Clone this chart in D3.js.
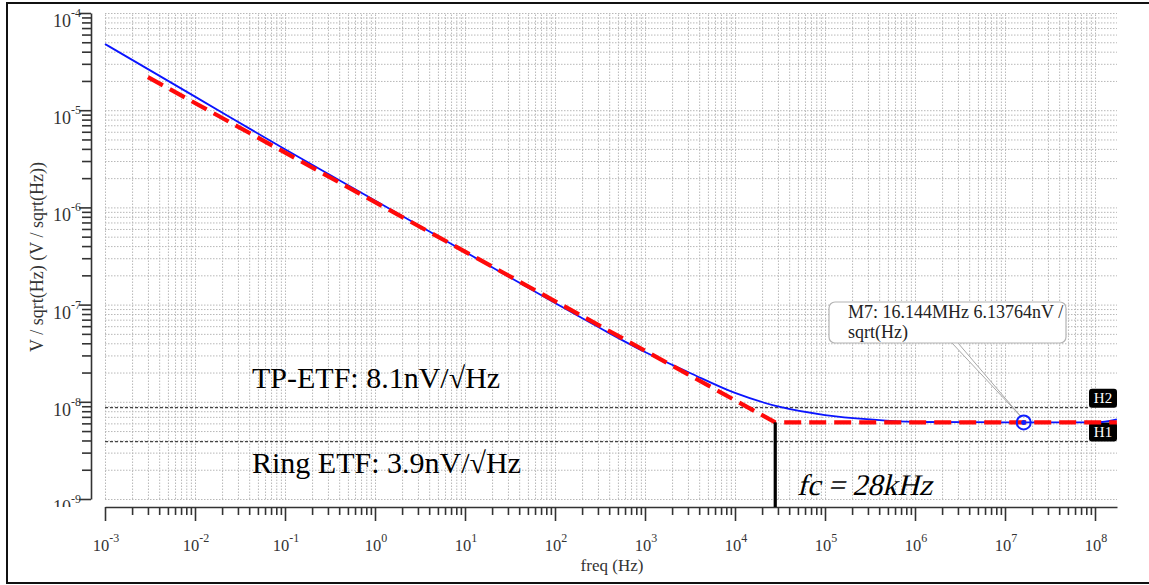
<!DOCTYPE html>
<html>
<head>
<meta charset="utf-8">
<script src="https://cdn.jsdelivr.net/npm/d3@7"></script>
<style>
  html, body { margin: 0; padding: 0; background: #fff; }
  svg { display: block; }
  text { font-family: "Liberation Serif", "Times New Roman", serif; }
</style>
</head>
<body>
<svg id="chart" width="1149" height="585"></svg>
<script>
// ---------------- data ----------------
const xMajorExp = [-3, -2, -1, 0, 1, 2, 3, 4, 5, 6, 7, 8];
const yMajorExp = [-9, -8, -7, -6, -5, -4];

// blue: simulated noise (V/sqrt(Hz)) vs frequency (Hz)
const blueFreq = [1e-3, 1e-2, 1e-1, 1, 10, 100, 316, 1e3, 3162, 1e4, 31623, 1e5, 316228, 1e6, 1e7, 16.144e6, 1e8, 1.2e8, 1.75e8];
const blueVal  = [4.80e-5, 1.38e-5, 3.96e-6, 1.175e-6, 3.49e-7, 1.038e-7, 5.74e-8, 3.25e-8, 1.98e-8, 1.233e-8, 8.85e-9, 7.31e-9, 6.58e-9, 6.20e-9, 6.15e-9, 6.13764e-9, 6.15e-9, 6.2e-9, 6.6e-9];

// red dashed: fitted asymptotes (1/f line + white floor, corner fc = 28 kHz)
const redFreq = [3e-3, 2.8e4, 1.75e8];
const redVal  = [2.19e-5, 6.14e-9, 6.14e-9];

// horizontal reference lines
const hLineNames = ["H2", "H1"];
const hLineVals  = [8.7e-9, 3.9e-9];

const fcFreq = 2.8e4;
const fcVal = 6.14e-9;
const markerFreq = 16.144e6;
const markerVal = 6.13764e-9;
const markerText = ["M7: 16.144MHz 6.13764nV /", "sqrt(Hz)"];
const tpLabel = "TP-ETF: 8.1nV/\u221AHz";
const ringLabel = "Ring ETF: 3.9nV/\u221AHz";
const fcLabel = "fc = 28kHz";
const xTitle = "freq (Hz)";
const yTitle = "V / sqrt(Hz) (V / sqrt(Hz))";

// ---------------- layout ----------------
const svg = d3.select("#chart");
const plotL = 105, plotR = 1117, plotT = 13, plotB = 499;
const xAxisY = 507, yAxisX = 91;

const xMax = Math.pow(10, 8 + 22 / 90);
const x = d3.scaleLog().domain([1e-3, xMax]).range([plotL, plotR]);
const y = d3.scaleLog().domain([1e-9, 1e-4]).range([plotB, plotT]);

const xMajor = xMajorExp.map(e => Math.pow(10, e));
const yMajor = yMajorExp.map(e => Math.pow(10, e));
const xMinor = [], yMinor = [];
xMajorExp.forEach(e => { for (let m = 2; m <= 9; m++) { const v = m * Math.pow(10, e); if (v <= xMax) xMinor.push(v); } });
yMajorExp.slice(0, -1).forEach(e => { for (let m = 2; m <= 9; m++) yMinor.push(m * Math.pow(10, e)); });
const xAll = xMajor.concat(xMinor), yAll = yMajor.concat(yMinor);

// outer frame
svg.append("rect").attr("x", 7).attr("y", 3).attr("width", 1160).attr("height", 580)
  .attr("fill", "none").attr("stroke", "#111").attr("stroke-width", 2);

// ---------------- grid ----------------
const gridX = svg.append("g").attr("transform", `translate(0,${plotB})`)
  .call(d3.axisBottom(x).tickValues(xAll).tickSize(-(plotB - plotT)).tickFormat(""));
const gridY = svg.append("g").attr("transform", `translate(${plotL},0)`)
  .call(d3.axisLeft(y).tickValues(yAll).tickSize(-(plotR - plotL)).tickFormat(""));
[gridX, gridY].forEach(g => {
  g.select(".domain").remove();
  g.selectAll("line").attr("stroke", "#b8b8b8").attr("stroke-width", 1).attr("stroke-dasharray", "1.5,1.5");
});

// ---------------- axes ----------------
const xAxisG = svg.append("g").attr("transform", `translate(0,${xAxisY})`)
  .call(d3.axisBottom(x).tickValues(xAll).tickSizeOuter(0).tickFormat(""));
xAxisG.select(".domain").attr("stroke", "#333").attr("stroke-width", 1.6);
xAxisG.selectAll(".tick line").attr("stroke", "#333").attr("stroke-width", 1.6)
  .attr("y2", d => xMajor.some(v => Math.abs(v - d) / v < 1e-9) ? 14 : 8);

const yAxisG = svg.append("g").attr("transform", `translate(${yAxisX},0)`)
  .call(d3.axisLeft(y).tickValues(yAll).tickSizeOuter(0).tickFormat(""));
yAxisG.select(".domain").attr("stroke", "#333").attr("stroke-width", 1.6);
yAxisG.selectAll(".tick line").attr("stroke", "#333").attr("stroke-width", 1.6)
  .attr("x2", d => yMajor.some(v => Math.abs(v - d) / v < 1e-9) ? -12 : -9);

// x tick labels
const xl = svg.append("g");
xMajorExp.forEach(e => {
  const t = xl.append("text").attr("x", x(Math.pow(10, e)) + 1).attr("y", 551)
    .attr("text-anchor", "middle").attr("fill", "#333").attr("font-size", 16.5);
  t.append("tspan").text("10");
  t.append("tspan").attr("dy", -9).attr("font-size", 12).text(String(e));
});

// y tick labels (clipped at the bottom like the original)
svg.append("clipPath").attr("id", "ylabclip").append("rect")
  .attr("x", 0).attr("y", 0).attr("width", 100).attr("height", 507);
const yl = svg.append("g").attr("clip-path", "url(#ylabclip)");
yMajorExp.forEach(e => {
  const yy = y(Math.pow(10, e));
  const t = yl.append("text").attr("x", 81).attr("y", yy + 14)
    .attr("text-anchor", "end").attr("fill", "#333").attr("font-size", 18);
  t.append("tspan").text("10");
  t.append("tspan").attr("dy", -10).attr("font-size", 12).text(String(e));
});

// axis titles
svg.append("text").attr("x", 612).attr("y", 571).attr("text-anchor", "middle")
  .attr("font-size", 17).attr("fill", "#333").text(xTitle);
svg.append("text").attr("transform", "translate(43,257) rotate(-90)").attr("text-anchor", "middle")
  .attr("font-size", 18).attr("fill", "#333").text(yTitle);

// ---------------- horizontal markers ----------------
hLineNames.forEach((name, i) => {
  const yy = y(hLineVals[i]);
  svg.append("line").attr("x1", plotL).attr("x2", 1089).attr("y1", yy).attr("y2", yy)
    .attr("stroke", "#444").attr("stroke-width", 1.2).attr("stroke-dasharray", "3,2");
  svg.append("rect").attr("x", 1089).attr("y", yy - 19).attr("width", 28).attr("height", 19)
    .attr("rx", 3).attr("fill", "#000");
  svg.append("text").attr("x", 1103).attr("y", yy - 4.5).attr("text-anchor", "middle")
    .attr("font-size", 15).attr("fill", "#fff").text(name);
});

// ---------------- curves ----------------
const line = d3.line().x(d => x(d[0])).y(d => y(d[1])).curve(d3.curveMonotoneX);
const lineLin = d3.line().x(d => x(d[0])).y(d => y(d[1]));

svg.append("path").datum(d3.zip(blueFreq, blueVal)).attr("d", line)
  .attr("fill", "none").attr("stroke", "#0a14ff").attr("stroke-width", 1.8);

svg.append("path").datum(d3.zip(redFreq, redVal)).attr("d", lineLin)
  .attr("fill", "none").attr("stroke", "#ff0a0a").attr("stroke-width", 4.2)
  .attr("stroke-dasharray", "17,8");

// fc vertical line
svg.append("line").attr("x1", x(fcFreq)).attr("x2", x(fcFreq)).attr("y1", y(fcVal)).attr("y2", xAxisY)
  .attr("stroke", "#000").attr("stroke-width", 3.2);

// marker + callout
const mx = x(markerFreq), my = y(markerVal);
svg.append("path").attr("d", `M952,343 L${mx - 3},${my - 6} L958,343`)
  .attr("fill", "#fff").attr("stroke", "#a8a8a8").attr("stroke-width", 1);
svg.append("rect").attr("x", 829).attr("y", 302).attr("width", 237).attr("height", 41).attr("rx", 6)
  .attr("fill", "#fff").attr("stroke", "#b4b4b4").attr("stroke-width", 1.2);
markerText.forEach((t, i) => {
  svg.append("text").attr("x", 848).attr("y", 318 + i * 20).attr("font-size", 18).attr("fill", "#222").text(t);
});
svg.append("circle").attr("cx", mx).attr("cy", my).attr("r", 7)
  .attr("fill", "none").attr("stroke", "#1020ff").attr("stroke-width", 2);
svg.append("circle").attr("cx", mx).attr("cy", my).attr("r", 2.5).attr("fill", "#1020ff");

// ---------------- annotation labels ----------------
svg.append("text").attr("x", 252).attr("y", 388).attr("font-size", 30).attr("fill", "#000").text(tpLabel);
svg.append("text").attr("x", 252).attr("y", 473).attr("font-size", 30).attr("fill", "#000").text(ringLabel);
svg.append("text").attr("transform", "translate(797,495) skewX(-14)").attr("font-size", 30)
  .attr("fill", "#000").text(fcLabel);
</script>
</body>
</html>
